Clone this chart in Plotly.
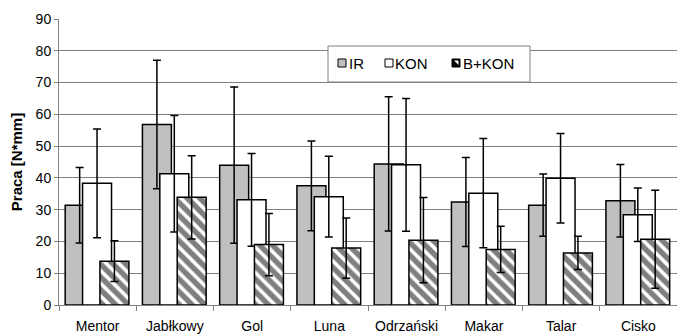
import plotly.graph_objects as go

categories = ["Mentor", "Jabłkowy", "Gol", "Luna", "Odrzański", "Makar", "Talar", "Cisko"]
ir = [31.4, 56.8, 44.0, 37.5, 44.4, 32.4, 31.4, 32.8]
ir_err = [11.9, 20.2, 24.6, 14.1, 21.1, 14.0, 9.8, 11.4]
kon = [38.3, 41.3, 33.1, 34.1, 44.1, 35.2, 39.9, 28.4]
kon_err = [17.1, 18.3, 14.6, 12.7, 20.9, 17.2, 14.1, 8.4]
bkon = [13.8, 33.9, 19.0, 17.9, 20.4, 17.5, 16.4, 20.7]
bkon_err = [6.4, 13.1, 9.8, 9.5, 13.4, 7.3, 5.2, 15.4]
series_names = ["IR", "KON", "B+KON"]

FONT = "Liberation Sans, Arial, sans-serif"
W = 0.375
L, R, T, B = 59, 0, 19, 29
WID, HEI = 677, 334
PW, PH = WID - L - R, HEI - T - B


def px(x):
    return (x - L) / PW


def py(y):
    return (HEI - B - y) / PH


def eb(vals):
    return dict(type="data", array=vals, visible=True, color="black", thickness=1.5, width=4)

fig = go.Figure()
fig.add_trace(go.Bar(x=categories, y=ir, name=series_names[0], offset=-0.42, width=W,
                     marker=dict(color="#c0c0c0", line=dict(color="black", width=1.5)),
                     error_y=eb(ir_err)))
fig.add_trace(go.Bar(x=categories, y=kon, name=series_names[1], offset=-0.195, width=W,
                     marker=dict(color="white", line=dict(color="black", width=1.5)),
                     error_y=eb(kon_err)))
fig.add_trace(go.Bar(x=categories, y=bkon, name=series_names[2], offset=0.03, width=W,
                     marker=dict(color="white", line=dict(color="black", width=1.5),
                                 pattern=dict(shape="\\", fgcolor="black", bgcolor="white",
                                              size=9, solidity=0.6)),
                     error_y=eb(bkon_err)))

# custom legend (Excel style)
shapes = [dict(type="rect", xref="paper", yref="paper", x0=px(328), x1=px(530),
               y0=py(82), y1=py(46), fillcolor="white", line=dict(color="#808080", width=1),
               layer="above")]
annotations = []
sym_x = [338, 385, 452]
txt_x = [347, 393, 461]
fills = ["#c0c0c0", "white", "black"]
for i, name in enumerate(series_names):
    shapes.append(dict(type="rect", xref="paper", yref="paper", x0=px(sym_x[i]), x1=px(sym_x[i] + 8),
                       y0=py(67), y1=py(59), fillcolor=fills[i],
                       line=dict(color="black", width=1), layer="above"))
    annotations.append(dict(text=name, xref="paper", yref="paper", x=px(txt_x[i]), y=py(63.5),
                            xanchor="left", yanchor="middle", showarrow=False,
                            font=dict(family=FONT, size=15, color="black")))
# white wedge inside the hatched legend symbol
x0, x1, y0, y1 = px(454), px(458.5), py(65), py(60.5)
shapes.append(dict(type="path", xref="paper", yref="paper",
                   path=f"M {x0} {y1} L {x1} {y1} L {x1} {y0} Z",
                   fillcolor="white", line=dict(width=0), layer="above"))

fig.update_layout(
    width=WID, height=HEI,
    margin=dict(l=L, r=R, t=T, b=B, autoexpand=False),
    barmode="overlay",
    paper_bgcolor="white", plot_bgcolor="white",
    font=dict(family=FONT, size=14, color="black"),
    showlegend=False,
    shapes=shapes,
    annotations=annotations,
    xaxis=dict(type="category", range=[-0.5, 7.5], showgrid=False, automargin=False,
               ticks="outside", tickson="boundaries", ticklen=5, tickcolor="#808080",
               showline=True, linecolor="#808080", linewidth=1, ticklabelstandoff=8,
               tickfont=dict(family=FONT, size=14)),
    yaxis=dict(range=[0, 90], dtick=10, showgrid=True, gridcolor="#808080", gridwidth=1,
               automargin=False,
               ticks="outside", ticklen=4, tickcolor="#808080",
               showline=True, linecolor="#808080", linewidth=1,
               tickfont=dict(family=FONT, size=14),
               title=dict(text="<b>Praca [N*mm]</b>", font=dict(family=FONT, size=15), standoff=9)),
)

fig.write_html("out.html", config={"displayModeBar": False},
               post_script="document.body.style.margin='0';document.body.style.overflow='hidden';")
